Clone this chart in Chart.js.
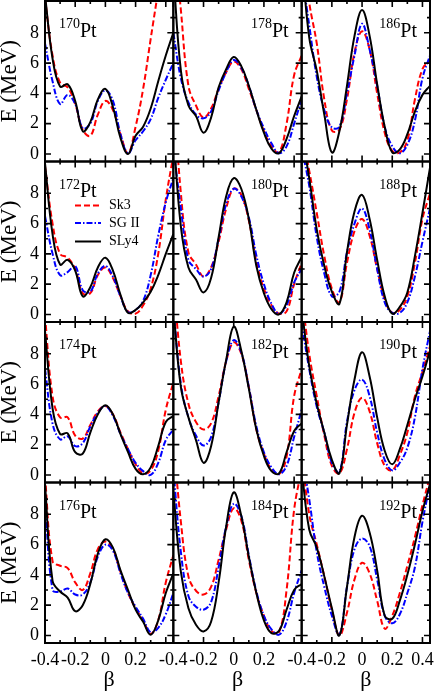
<!DOCTYPE html>
<html><head><meta charset="utf-8">
<script src="https://cdn.jsdelivr.net/npm/chart.js@4/dist/chart.umd.min.js"></script>
<style>html,body{margin:0;padding:0;background:#fff;}#wrap{width:436px;height:693px;}</style>
</head><body><div id="wrap"><canvas id="c" width="436" height="693" style="width:436px;height:693px"></canvas></div>
<script>
// deformation grid (beta)
const beta = [-0.4,-0.35,-0.3,-0.25,-0.2,-0.15,-0.1,-0.05,0,0.05,0.1,0.15,0.2,0.25,0.3,0.35,0.4,0.45];
// tick labels
const yTickValues = [0,2,4,6,8];
const xTickCol1 = [-0.4,-0.2,0,0.2];
const xTickCol2 = [-0.4,-0.2,0,0.2];
const xTickCol3 = [-0.4,-0.2,0,0.2,0.4];
const nuclei = ['170','172','174','176','178','180','182','184','186','188','190','192'];
const forces = ['Sk3','SG II','SLy4'];

// energies (MeV)
const pt170_Sk3  = [10.3,6.5,4.7,4.4,3.3,1.6,1.2,2.6,3.5,2.9,1.3,0.05,1.8,4.3,7.6,10.8,14,16];
const pt170_SGII = [7.3,4.8,3.3,3.9,3.3,1.7,2.0,3.5,4.2,3.5,1.3,0.05,0.9,1.5,2.3,3.7,4.9,6.0];
const pt170_SLy4 = [10.5,6.3,4.45,4.6,3.5,1.5,2.1,3.6,4.3,3.1,1.05,0.0,1.2,1.8,3.0,4.8,6.5,8.0];

const pt172_Sk3  = [9.8,6.0,4.0,3.75,3.0,1.4,1.4,2.6,3.1,2.4,1.2,0.2,0.05,0.6,1.7,4.0,7.6,10.5];
const pt172_SGII = [6.5,4.0,2.6,2.8,3.2,1.6,1.5,2.7,3.2,2.5,1.2,0.15,0.3,0.9,2.6,5.2,7.4,9.0];
const pt172_SLy4 = [10,5.3,3.3,3.6,2.9,1.2,1.8,3.1,3.75,2.9,1.3,0.1,0.3,0.8,1.5,2.6,4.0,5.3];

const pt174_Sk3  = [10.5,5.2,3.8,3.8,2.6,2.4,3.3,4.2,4.55,4.0,2.8,1.7,0.7,0.1,0.3,1.6,4.3,6.1];
const pt174_SGII = [7.0,3.4,2.35,2.55,1.9,2.1,3.2,4.1,4.55,3.9,2.7,1.7,0.8,0.25,0.0,0.8,2.3,3.0];
const pt174_SLy4 = [9.5,4.4,2.7,2.75,1.5,1.4,2.8,4.0,4.6,4.0,2.7,1.5,0.4,0.05,0.5,1.9,3.5,3.9];

const pt176_Sk3  = [10.5,4.9,4.6,4.45,3.5,3.0,4.1,5.7,6.2,5.7,4.2,2.8,1.8,1.0,0.1,1.0,3.5,5.3];
const pt176_SGII = [9.0,3.0,2.9,3.1,2.7,2.7,3.5,5.2,6.0,5.6,4.1,2.8,1.9,1.1,0.2,0.5,1.4,2.8];
const pt176_SLy4 = [10,3.6,2.9,2.5,1.6,2.0,3.4,5.4,6.35,5.8,4.3,3.0,1.7,0.9,0.05,1.0,2.8,4.1];

const pt178_Sk3  = [15,9.5,4.5,3.2,2.4,3.0,4.3,5.4,6.1,5.6,4.3,2.9,1.5,0.5,0.1,2.0,5.2,6.5];
const pt178_SGII = [8.0,5.0,3.4,2.6,2.35,2.8,4.2,5.4,6.2,5.7,4.5,2.9,1.7,0.7,0.05,0.5,2.0,3.6];
const pt178_SLy4 = [12,5.5,3.2,2.5,1.4,2.4,4.4,5.6,6.4,5.8,4.5,2.9,1.4,0.35,0.05,1.0,2.5,3.8];

const pt180_Sk3  = [15,8.0,4.1,3.3,2.5,3.1,4.8,7.0,8.3,7.9,6.2,3.5,1.7,0.6,0.05,0.2,2.0,3.4];
const pt180_SGII = [11,7.0,3.6,3.0,2.5,3.0,5.0,7.3,8.3,7.8,6.4,3.9,2.0,0.7,0.05,0.6,2.1,3.0];
const pt180_SLy4 = [12,5.8,3.1,2.3,1.45,2.4,5.1,7.8,9.0,8.3,6.3,3.2,1.4,0.35,0.0,0.8,2.75,3.8];

const pt182_Sk3  = [13,7.5,4.7,3.5,3.0,3.4,5.2,7.5,8.75,8.0,5.8,3.0,1.4,0.35,0.05,1.2,5.2,7.0];
const pt182_SGII = [11,6.0,3.8,2.6,1.95,2.5,4.8,7.5,8.9,8.1,5.8,3.2,1.5,0.5,0.05,0.6,2.5,4.3];
const pt182_SLy4 = [11,5.8,3.8,2.3,0.8,1.9,4.8,7.6,9.8,8.2,5.7,3.0,1.25,0.25,0.1,1.5,2.9,3.4];

const pt184_Sk3  = [13,7.5,3.9,2.95,2.7,3.2,5.0,7.0,8.4,7.6,5.0,2.8,1.3,0.3,0.2,3.0,8.3,11];
const pt184_SGII = [11,5.5,2.6,1.9,1.7,2.2,4.5,7.2,8.7,7.9,5.3,2.9,1.3,0.4,0.05,0.9,2.8,4.3];
const pt184_SLy4 = [9.5,4.2,1.8,0.7,0.26,0.9,3.5,7.2,9.45,7.9,5.2,2.8,1.0,0.15,0.3,1.7,3.0,3.4];

const pt186_Sk3  = [14,10,7.3,3.6,1.55,1.6,3.6,6.7,8.1,6.9,4.0,1.4,0.2,0.1,0.9,3.6,5.6,6.2];
const pt186_SGII = [12,8.5,5.1,2.9,1.75,1.8,4.0,6.5,8.6,6.9,4.5,1.8,0.5,0.05,0.6,2.2,5.0,6.5];
const pt186_SLy4 = [13,7.7,5.5,2.6,0.1,1.5,4.5,7.8,9.5,7.8,4.6,1.8,0.1,0.3,1.3,2.8,3.9,4.5];

const pt188_Sk3  = [12,9.5,6.7,3.85,1.7,0.8,3.4,5.5,6.3,5.2,3.0,1.0,0.1,0.3,1.2,3.4,6.3,8.0];
const pt188_SGII = [11,8.5,5.1,2.7,1.2,1.5,4.1,6.0,7.0,5.6,3.0,0.8,0.1,0.1,0.8,2.5,4.8,7.0];
const pt188_SLy4 = [12,9.0,5.6,3.2,1.5,0.7,4.1,6.8,7.9,6.3,3.6,1.2,0.05,0.5,1.45,3.85,6.7,9.7];

const pt190_Sk3  = [12,8.0,5.2,2.6,0.6,0.1,1.7,4.1,5.1,4.2,2.1,0.6,0.3,1.3,2.8,5.2,6.8,8.5];
const pt190_SGII = [10,7.0,4.5,2.8,0.8,0.2,3.5,5.6,6.3,5.2,2.8,1.0,0.3,0.8,1.8,3.8,7.0,9.5];
const pt190_SLy4 = [11,7.2,4.7,2.8,1.0,0.1,3.3,6.3,8.1,6.5,3.8,1.6,0.7,1.7,3.3,5.0,6.5,8.2];

const pt192_Sk3  = [12,8.0,6.0,3.9,1.7,0.0,1.5,3.7,4.8,4.1,2.3,0.45,1.3,2.8,4.6,6.5,8.6,10.5];
const pt192_SGII = [12,9.0,5.5,3.2,1.3,0.05,3.2,5.7,6.4,5.9,3.7,1.3,0.8,1.4,2.8,4.5,7.5,10];
const pt192_SLy4 = [11,7.0,5.8,3.9,1.8,0.0,3.2,6.5,7.9,6.8,4.3,1.3,1.1,2.3,4.0,6.0,8.2,10];

const seriesByNucleus = {
  '170':[pt170_Sk3,pt170_SGII,pt170_SLy4], '172':[pt172_Sk3,pt172_SGII,pt172_SLy4],
  '174':[pt174_Sk3,pt174_SGII,pt174_SLy4], '176':[pt176_Sk3,pt176_SGII,pt176_SLy4],
  '178':[pt178_Sk3,pt178_SGII,pt178_SLy4], '180':[pt180_Sk3,pt180_SGII,pt180_SLy4],
  '182':[pt182_Sk3,pt182_SGII,pt182_SLy4], '184':[pt184_Sk3,pt184_SGII,pt184_SLy4],
  '186':[pt186_Sk3,pt186_SGII,pt186_SLy4], '188':[pt188_Sk3,pt188_SGII,pt188_SLy4],
  '190':[pt190_Sk3,pt190_SGII,pt190_SLy4], '192':[pt192_Sk3,pt192_SGII,pt192_SLy4]
};

const styles = [
  {color:'#ff0000', dash:[6,3], order:3},
  {color:'#0000ff', dash:[6,2,1.5,2], order:2},
  {color:'#000000', dash:[], order:1}
];

const datasets = [];
nuclei.forEach((n, i) => {
  const col = Math.floor(i/4), row = i%4;
  seriesByNucleus[n].forEach((vals, k) => {
    datasets.push({
      label: forces[k] + ' ' + n,
      data: beta.map((b, j) => ({x:b, y:vals[j]})),
      xAxisID: 'x'+col, yAxisID: 'y'+row,
      borderColor: styles[k].color, borderDash: styles[k].dash,
      borderWidth: 2, pointRadius: 0, tension: 0.4, fill: false,
      order: styles[k].order
    });
  });
});

Chart.defaults.font.family = "'Liberation Serif','Times New Roman',serif";
Chart.defaults.color = '#000';

const xTicksByCol = [xTickCol1, xTickCol2, xTickCol3];
function xAxis(col){
  return {
    type:'linear', position:'bottom', stack:'cols', stackWeight:1, weight: col+1,
    min:-0.4, max:0.45,
    afterBuildTicks: s => { s.ticks = xTicksByCol[col].map(v => ({value:v})); },
    afterFit: s => { s.height = 50; s.paddingLeft = 0; s.paddingRight = 0; },
    grid:{display:false, drawTicks:false}, border:{display:false},
    ticks:{color:'#000', font:{size:18}, padding:6, maxRotation:0, minRotation:0, autoSkip:false,
      callback: v => String(v)},
    title:{display:true, text:'β', color:'#000', font:{size:22, lineHeight:1.2}, padding:{top:0, bottom:0}}
  };
}
function yAxis(row){
  return {
    type:'linear', position:'left', stack:'rows', stackWeight:1, weight: 4-row,
    min:-0.5, max:10.1,
    afterBuildTicks: s => { s.ticks = yTickValues.map(v => ({value:v})); },
    afterFit: s => { s.width = 45; s.paddingTop = 0; s.paddingBottom = 0; },
    grid:{display:false, drawTicks:false}, border:{display:false},
    ticks:{color:'#000', font:{size:18}, padding:6, autoSkip:false, callback: v => String(v)},
    title:{display:true, text:'E (MeV)', color:'#000', font:{size:23, lineHeight:0.9}, padding:{top:0,bottom:0}}
  };
}

const scales = {};
[0,1,2].forEach(c => scales['x'+c] = xAxis(c));
[0,1,2,3].forEach(r => scales['y'+r] = yAxis(r));

const clipPlugin = {
  id:'panelClip',
  beforeDatasetDraw(chart, args){
    const m = args.meta, ctx = chart.ctx;
    ctx.save(); ctx.beginPath();
    ctx.rect(m.xScale.left, m.yScale.top, m.xScale.right - m.xScale.left, m.yScale.bottom - m.yScale.top);
    ctx.clip();
  },
  afterDatasetDraw(chart){ chart.ctx.restore(); }
};

const framePlugin = {
  id:'frames',
  afterDatasetsDraw(chart){
    const ctx = chart.ctx;
    ctx.save();
    ctx.strokeStyle = '#000';
    ctx.lineWidth = 1.6;
    for (let c=0;c<3;c++){
      const xs = chart.scales['x'+c];
      for (let r=0;r<4;r++){
        const ys = chart.scales['y'+r];
        const L = xs.left, R = xs.right, T = ys.top, B = ys.bottom;
        ctx.beginPath();
        // x ticks every 0.1
        for (let k=-4;k<=4;k++){
          const px = xs.getPixelForValue(k/10);
          const len = (k%2===0) ? 6 : 3;
          ctx.moveTo(px, B); ctx.lineTo(px, B-len);
          ctx.moveTo(px, T); ctx.lineTo(px, T+len);
        }
        for (let v=0; v<=9; v++){
          const py = ys.getPixelForValue(v);
          const len = (v%2===0) ? 6 : 3;
          ctx.moveTo(L, py); ctx.lineTo(L+len, py);
          ctx.moveTo(R, py); ctx.lineTo(R-len, py);
        }
        ctx.stroke();
        ctx.lineWidth = 2;
        ctx.strokeRect(L, T, R-L, B-T);
        ctx.lineWidth = 1.6;
      }
    }
    ctx.restore();
  },
  afterDraw(chart){
    const ctx = chart.ctx;
    ctx.save();
    ctx.fillStyle = '#000';
    ctx.textBaseline = 'alphabetic';
    nuclei.forEach((n, i) => {
      const col = Math.floor(i/4), row = i%4;
      const xs = chart.scales['x'+col], ys = chart.scales['y'+row];
      ctx.font = "14px 'Liberation Serif', serif";
      const w1 = ctx.measureText(n).width;
      ctx.font = "20px 'Liberation Serif', serif";
      const w2 = ctx.measureText('Pt').width;
      let x0 = col === 0 ? xs.left + 14 : xs.right - 13 - w1 - w2;
      const base = ys.top + 35.5;
      ctx.font = "14px 'Liberation Serif', serif";
      ctx.fillText(n, x0, base - 8.5);
      ctx.font = "20px 'Liberation Serif', serif";
      ctx.fillText('Pt', x0 + w1, base);
    });
    // legend inside the 172Pt panel
    const lx = chart.scales.x0, ly = chart.scales.y1;
    const rowsY = [44, 61.5, 80];
    ctx.font = "14px 'Liberation Serif', serif";
    ctx.textBaseline = 'middle';
    forces.forEach((f, k) => {
      const y = ly.top + rowsY[k];
      ctx.beginPath();
      ctx.setLineDash(styles[k].dash);
      ctx.strokeStyle = styles[k].color;
      ctx.lineWidth = 2;
      ctx.moveTo(lx.left + 30, y); ctx.lineTo(lx.left + 56, y);
      ctx.stroke();
      ctx.setLineDash([]);
      ctx.fillText(f, lx.left + 64, y);
    });
    ctx.restore();
  }
};

new Chart(document.getElementById('c'), {
  type:'line',
  data:{datasets},
  options:{
    responsive:false, animation:false, devicePixelRatio:1,
    layout:{padding:{top:1, right:6, left:0, bottom:0}},
    plugins:{legend:{display:false}, tooltip:{enabled:false}},
    scales
  },
  plugins:[clipPlugin, framePlugin]
});
</script>
</body></html>
